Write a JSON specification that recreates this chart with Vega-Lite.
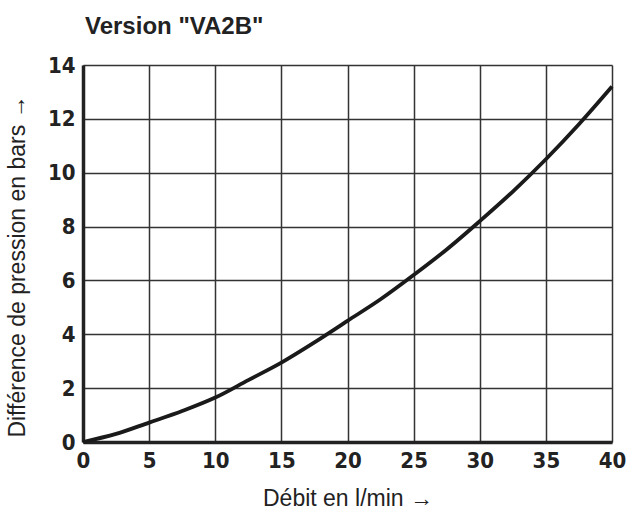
{
  "$schema": "https://vega.github.io/schema/vega-lite/v6.json",
  "width": 529,
  "height": 377,
  "autosize": {"type": "none"},
  "padding": {"left": 83, "top": 65, "right": 15, "bottom": 73},
  "background": "white",
  "title": {
    "text": "Version \"VA2B\"",
    "anchor": "start",
    "frame": "group",
    "font": "Liberation Sans",
    "fontSize": 24,
    "fontWeight": "bold",
    "color": "#222",
    "offset": 15,
    "dx": 2
  },
  "config": {
    "view": {"stroke": null},
    "axis": {
      "grid": true,
      "gridColor": "#333",
      "gridWidth": 1.5,
      "gridOpacity": 1,
      "domainColor": "#222",
      "domainWidth": 3.5,
      "ticks": false,
      "labelFont": "DejaVu Sans Condensed",
      "labelFontWeight": "bold",
      "labelFontSize": 22,
      "labelColor": "#222",
      "titleFont": "Liberation Sans",
      "titleFontWeight": "normal",
      "titleFontSize": 23,
      "titleColor": "#222"
    }
  },
  "data": {
    "values": [
      {"q": 0, "p": 0},
      {"q": 2.5, "p": 0.3},
      {"q": 5, "p": 0.72},
      {"q": 7.5, "p": 1.15},
      {"q": 10, "p": 1.65},
      {"q": 12.5, "p": 2.3},
      {"q": 15, "p": 2.95},
      {"q": 17.5, "p": 3.7},
      {"q": 20, "p": 4.5},
      {"q": 22.5, "p": 5.3},
      {"q": 25, "p": 6.2},
      {"q": 27.5, "p": 7.15},
      {"q": 30, "p": 8.2},
      {"q": 32.5, "p": 9.3},
      {"q": 35, "p": 10.5},
      {"q": 37.5, "p": 11.8},
      {"q": 40, "p": 13.2}
    ]
  },
  "mark": {"type": "line", "color": "#1a1a1a", "strokeWidth": 3.8, "interpolate": "monotone"},
  "encoding": {
    "x": {
      "field": "q",
      "type": "quantitative",
      "scale": {"domain": [0, 40], "nice": false},
      "axis": {"values": [0, 5, 10, 15, 20, 25, 30, 35, 40], "title": "Débit en l/min →", "labelPadding": 8, "titlePadding": 16, "labelFlush": false}
    },
    "y": {
      "field": "p",
      "type": "quantitative",
      "scale": {"domain": [0, 14], "nice": false},
      "axis": {"values": [0, 2, 4, 6, 8, 10, 12, 14], "title": "Différence de pression en bars →", "labelPadding": 8, "titlePadding": 18, "titleY": 201, "labelFlush": false}
    }
  }
}
